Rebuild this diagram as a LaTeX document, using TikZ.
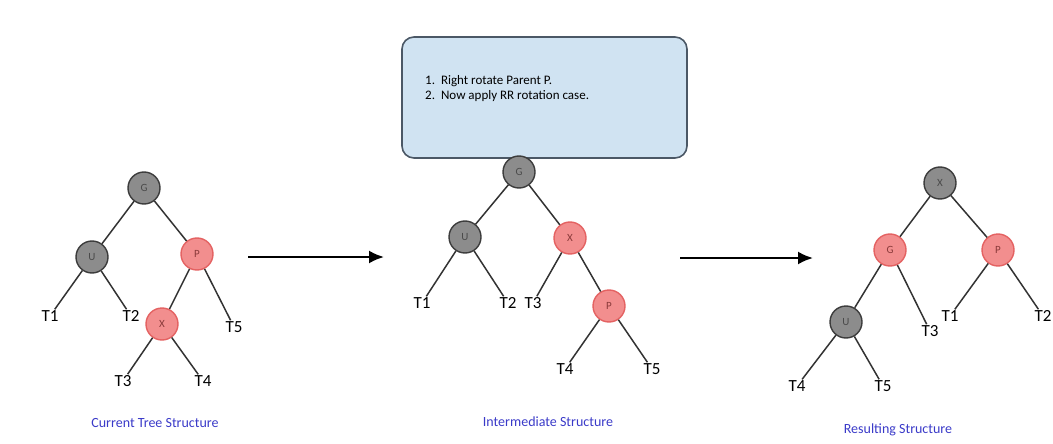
\documentclass[tikz,border=0pt]{standalone}
\usepackage{fontspec}
\setmainfont{Carlito}
\usetikzlibrary{arrows.meta}

\definecolor{blkfill}{HTML}{8C8C8C}
\definecolor{blkedge}{HTML}{3C3C3C}
\definecolor{blktext}{HTML}{4A4A4A}
\definecolor{redfill}{HTML}{F28E8E}
\definecolor{rededge}{HTML}{E46262}
\definecolor{redtext}{HTML}{8A3A3A}
\definecolor{notefill}{HTML}{D0E3F2}
\definecolor{noteedge}{HTML}{4B5866}
\definecolor{capblue}{HTML}{3A3AC8}

\tikzset{
  blknode/.style={circle, minimum size=32pt, inner sep=0pt, fill=blkfill,
    draw=blkedge, line width=1.4pt, text=blktext, font=\fontsize{11}{11}\selectfont},
  rednode/.style={circle, minimum size=32pt, inner sep=0pt, fill=redfill,
    draw=rededge, line width=1.4pt, text=redtext, font=\fontsize{11}{11}\selectfont},
  leaf/.style={inner sep=1pt, font=\fontsize{17}{17}\selectfont},
  edge/.style={line width=1.5pt, draw=black!80},
  caption/.style={text=capblue, font=\fontsize{14}{14}\selectfont},
  step arrow/.style={line width=2.2pt, -{Latex[length=15pt, width=13pt]}}
}

\begin{document}
\begin{tikzpicture}[x=1pt, y=-1pt]
\useasboundingbox (0,0) rectangle (1053,444);

% note box
\node[draw=noteedge, fill=notefill, line width=1.6pt, rounded corners=12pt,
  minimum width=285pt, minimum height=121pt] (note) at (544.5,97.5) {};
\node[anchor=north west, inner sep=0pt, font=\fontsize{13}{15}\selectfont] (steps) at (425,74)
  {\begin{tabular}{@{}l@{\hspace{6pt}}l@{}}1. & Right rotate Parent P.\\ 2. & Now apply RR rotation case.\end{tabular}};

% current tree
\node[blknode] (g1) at (144,188) {G};
\node[blknode] (u1) at (92,257) {U};
\node[rednode] (p1) at (197,254) {P};
\node[rednode] (x1) at (162,324) {X};
\node[leaf] (t11) at (50,316) {T1};
\node[leaf] (t12) at (131,316) {T2};
\node[leaf] (t15) at (234,327) {T5};
\node[leaf] (t13) at (123,381) {T3};
\node[leaf] (t14) at (203,381) {T4};
\draw[edge] (g1) -- (u1);
\draw[edge] (g1) -- (p1);
\draw[edge] (u1) -- (t11);
\draw[edge] (u1) -- (t12);
\draw[edge] (p1) -- (x1);
\draw[edge] (p1) -- (t15);
\draw[edge] (x1) -- (t13);
\draw[edge] (x1) -- (t14);
\node[caption] (cap1) at (155,423) {Current Tree Structure};

% first arrow
\coordinate (a1s) at (248,257);
\coordinate (a1e) at (384,257);
\draw[step arrow] (a1s) -- (a1e);

% intermediate tree
\node[blknode] (g2) at (519,172) {G};
\node[blknode] (u2) at (465,237) {U};
\node[rednode] (x2) at (570,238) {X};
\node[rednode] (p2) at (609,306) {P};
\node[leaf] (t21) at (422,303) {T1};
\node[leaf] (t22) at (508,303) {T2};
\node[leaf] (t23) at (533,303) {T3};
\node[leaf] (t24) at (565,369) {T4};
\node[leaf] (t25) at (652,369) {T5};
\draw[edge] (g2) -- (u2);
\draw[edge] (g2) -- (x2);
\draw[edge] (u2) -- (t21);
\draw[edge] (u2) -- (t22);
\draw[edge] (x2) -- (t23);
\draw[edge] (x2) -- (p2);
\draw[edge] (p2) -- (t24);
\draw[edge] (p2) -- (t25);
\node[caption] (cap2) at (548,422) {Intermediate Structure};

% second arrow
\coordinate (a2s) at (680,258);
\coordinate (a2e) at (813,258);
\draw[step arrow] (a2s) -- (a2e);

% resulting tree
\node[blknode] (x3) at (940,183) {X};
\node[rednode] (g3) at (890,250) {G};
\node[rednode] (p3) at (998,250) {P};
\node[blknode] (u3) at (846,322) {U};
\node[leaf] (t33) at (930,331) {T3};
\node[leaf] (t31) at (950,316) {T1};
\node[leaf] (t32) at (1043,316) {T2};
\node[leaf] (t34) at (797,386) {T4};
\node[leaf] (t35) at (883,386) {T5};
\draw[edge] (x3) -- (g3);
\draw[edge] (x3) -- (p3);
\draw[edge] (g3) -- (u3);
\draw[edge] (g3) -- (t33);
\draw[edge] (p3) -- (t31);
\draw[edge] (p3) -- (t32);
\draw[edge] (u3) -- (t34);
\draw[edge] (u3) -- (t35);
\node[caption] (cap3) at (898,430) {Resulting Structure};
\end{tikzpicture}
\end{document}
